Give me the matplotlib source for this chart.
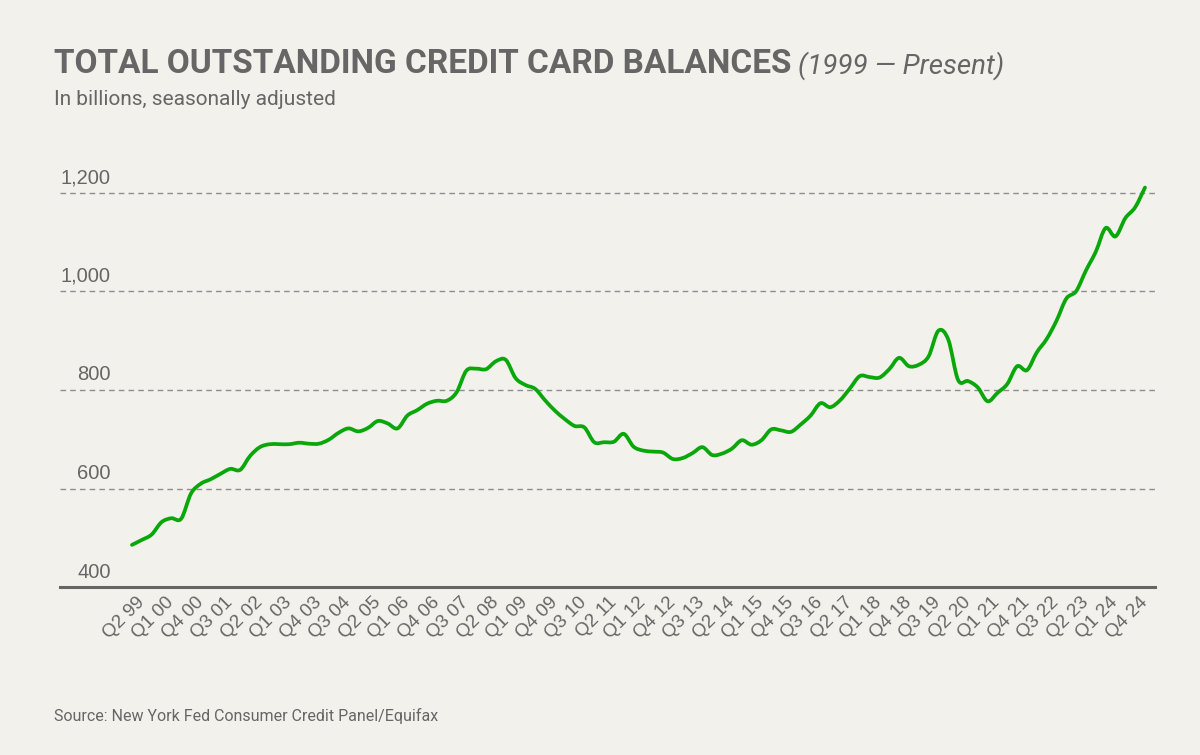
import numpy as np
import matplotlib.pyplot as plt
from matplotlib.path import Path
from matplotlib.patches import PathPatch
from matplotlib.transforms import blended_transform_factory

# quarterly balances, Q1 1999 .. Q4 2024 (billions)
balances = [
    486, 496, 507, 532, 540, 539, 590, 610,          # 1999-2000
    619, 630, 640, 638, 666, 684, 690, 690,          # 2001-2002
    690, 693, 691, 691, 699, 713, 722, 716,          # 2003-2004
    723, 737, 732, 722, 748, 759, 772, 778,          # 2005-2006
    778, 795, 839, 843, 842, 858, 861, 824,          # 2007-2008
    810, 802, 779, 758, 741, 727, 724, 694,          # 2009-2010
    694, 695, 711, 685, 677, 675, 673, 660,          # 2011-2012
    662, 672, 684, 668, 671, 681, 698, 689,          # 2013-2014
    698, 720, 718, 715, 730, 748, 773, 765,          # 2015-2016
    779, 803, 828, 826, 825, 842, 865, 848,          # 2017-2018
    851, 868, 920, 902, 820, 818, 805, 777,          # 2019-2020
    794, 812, 848, 840, 876, 903, 940, 985,          # 2021-2022
    1000, 1042, 1080, 1128, 1111, 1148, 1170, 1210,  # 2023-2024
]

tick_labels = ['Q2 99', 'Q1 00', 'Q4 00', 'Q3 01', 'Q2 02', 'Q1 03', 'Q4 03',
               'Q3 04', 'Q2 05', 'Q1 06', 'Q4 06', 'Q3 07', 'Q2 08', 'Q1 09',
               'Q4 09', 'Q3 10', 'Q2 11', 'Q1 12', 'Q4 12', 'Q3 13', 'Q2 14',
               'Q1 15', 'Q4 15', 'Q3 16', 'Q2 17', 'Q1 18', 'Q4 18', 'Q3 19',
               'Q2 20', 'Q1 21', 'Q4 21', 'Q3 22', 'Q2 23', 'Q1 24', 'Q4 24']

y_ticks = [400, 600, 800, 1000, 1200]

bg = '#f2f1ec'
grey = '#666666'
green = '#0aa70a'
sans = ['Liberation Sans', 'DejaVu Sans']
narrow = ['Roboto', 'DejaVu Sans']

fig = plt.figure(figsize=(12, 7.55), dpi=100, facecolor=bg)
ax = fig.add_axes([0.05, 0.2221, 0.9125, 0.536])
ax.set_facecolor(bg)

x = np.arange(len(balances))
y = np.array(balances, dtype=float)

# smooth line through the points (Catmull-Rom as cubic Bezier segments)
pts = np.column_stack([x, y])
ext = np.vstack([pts[0], pts, pts[-1]])
verts = [pts[0]]
codes = [Path.MOVETO]
for i in range(len(pts) - 1):
    p0, p1, p2, p3 = ext[i], ext[i + 1], ext[i + 2], ext[i + 3]
    verts += [p1 + (p2 - p0) / 6, p2 - (p3 - p1) / 6, p2]
    codes += [Path.CURVE4] * 3
ax.add_patch(PathPatch(Path(verts, codes), facecolor='none', edgecolor=green,
                       lw=2.7, capstyle='round', joinstyle='round', zorder=3))

ax.set_xlim(-7.32, 104.02)
ax.set_ylim(400, 1220)

ax.set_yticks(y_ticks)
ax.yaxis.grid(True, ls=(0, (4, 3)), color='#8e8e8e', lw=1)
ax.set_yticklabels([])
ax.tick_params(axis='y', length=0)
blend = blended_transform_factory(fig.transFigure, ax.transData)
for v in y_ticks:
    ax.text(0.0925, v + 11, f'{v:,}', transform=blend, ha='right', va='bottom',
            fontsize=14.5, color=grey, family=sans)

ax.set_xticks(x[1::3])
ax.set_xticklabels(tick_labels, rotation=45, ha='right', va='center',
                   rotation_mode='anchor', fontsize=13.5, color=grey, family=sans)
ax.tick_params(axis='x', length=0, pad=9)

for s in ['top', 'right', 'left']:
    ax.spines[s].set_visible(False)
ax.spines['bottom'].set_color(grey)
ax.spines['bottom'].set_linewidth(2.2)

title = fig.text(0.045, 0.903, 'TOTAL OUTSTANDING CREDIT CARD BALANCES',
                 fontsize=24, fontweight='bold', color=grey, family=narrow,
                 va='baseline')
ax.annotate('(1999 — Present)', xy=(1, 0), xycoords=title, xytext=(5, 0),
            textcoords='offset points', fontsize=20, fontstyle='italic',
            color=grey, family=narrow, va='bottom', annotation_clip=False)
fig.text(0.045, 0.861, 'In billions, seasonally adjusted', fontsize=15,
         color=grey, family=narrow, va='baseline')
fig.text(0.045, 0.052, 'Source: New York Fed Consumer Credit Panel/Equifax',
         fontsize=11.5, color=grey, family=narrow, va='center')

fig.savefig('out.png', dpi=100, facecolor=bg)
